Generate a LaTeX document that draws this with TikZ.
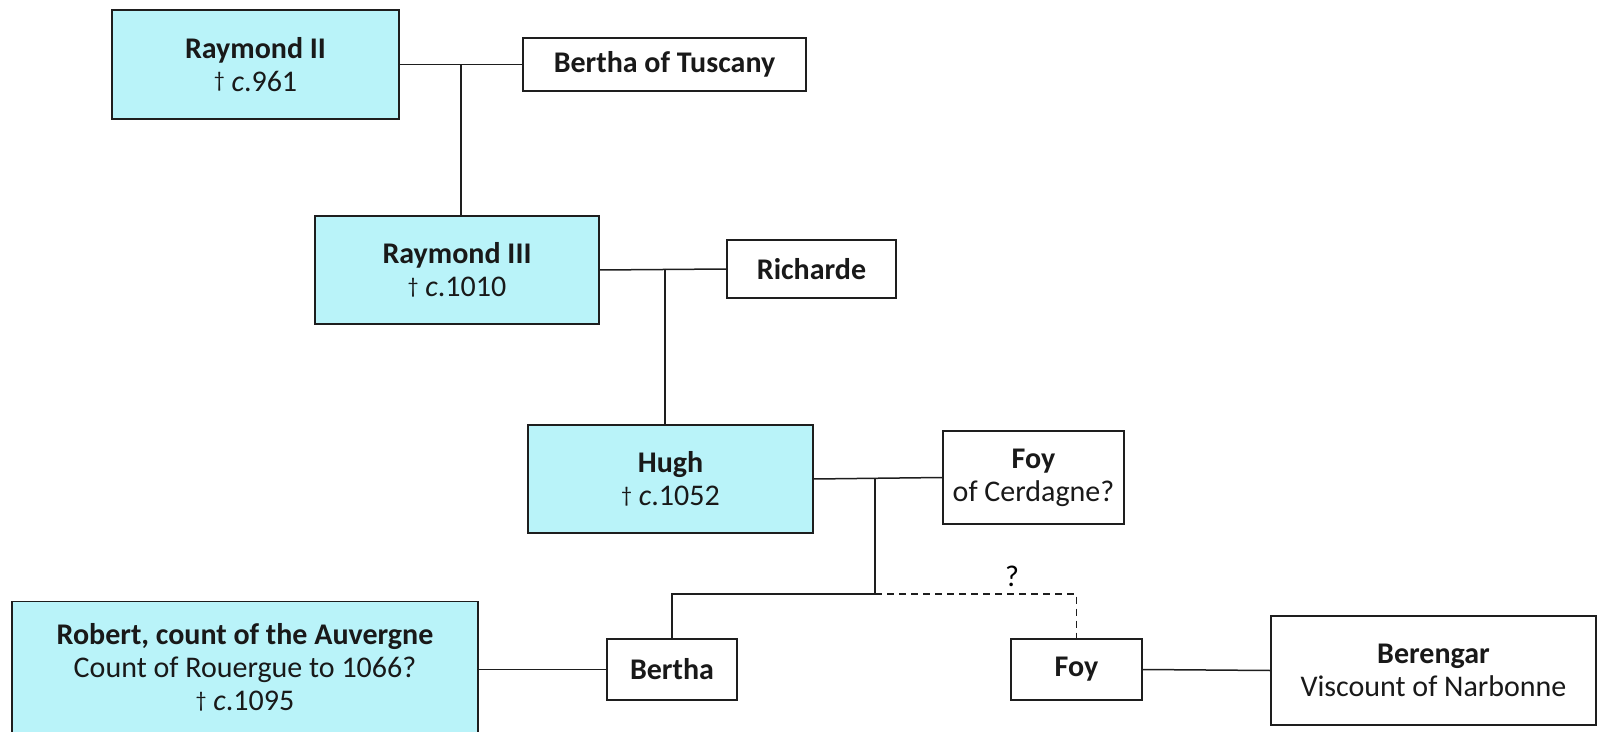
\documentclass[tikz,border=0pt]{standalone}
\usepackage{fontspec}
\setmainfont{Carlito}
\definecolor{boxcyan}{RGB}{185,243,249}
\definecolor{lineblack}{RGB}{30,30,30}
\newcommand{\obit}{\raisebox{0.25ex}{\fontsize{11}{12}\selectfont †}}
\begin{document}
\begin{tikzpicture}[x=0.5pt,y=-0.5pt,
  person/.style={draw=lineblack, line width=0.8pt, fill=white, align=center, inner sep=0pt,
    font=\fontsize{15}{16.5}\selectfont, text=black!90},
  ruler/.style={person, fill=boxcyan},
  link/.style={draw=lineblack, line width=0.75pt},
  dashlink/.style={link, dash pattern=on 3.5pt off 2.5pt}]
\useasboundingbox (0,0) rectangle (1599,732);
% nodes
\node[ruler, minimum width=143.5pt, minimum height=54.5pt] (r2) at (255.5,64.5)
  {\textbf{Raymond II}\\ \obit{} \textit{c}.961};
\node[person, minimum width=141.5pt, minimum height=26.5pt] (bt) at (664.5,64.5)
  {\textbf{Bertha of Tuscany}};
\node[ruler, minimum width=142pt, minimum height=54pt] (r3) at (457,270)
  {\textbf{Raymond III}\\ \obit{} \textit{c}.1010};
\node[person, minimum width=84.5pt, minimum height=29pt] (ri) at (811.5,269)
  {\textbf{Richarde}};
\node[ruler, minimum width=142.5pt, minimum height=54pt] (hu) at (670.5,479)
  {\textbf{Hugh}\\ \obit{} \textit{c}.1052};
\node[person, minimum width=90.5pt, minimum height=46.5pt] (fc) at (1033.5,477.5)
  {\textbf{Foy}\\ of Cerdagne?};
\node[person, minimum width=65pt, minimum height=30.5pt] (be) at (672,669.5)
  {\textbf{Bertha}};
\node[person, minimum width=65.5pt, minimum height=30.5pt] (fo) at (1076.5,669.5)
  {\textbf{Foy}};
\node[ruler, minimum width=233pt, minimum height=66pt] (ro) at (245,667.5)
  {\textbf{Robert, count of the Auvergne}\\ Count of Rouergue to 1066?\\ \obit{} \textit{c}.1095};
\node[person, minimum width=162.5pt, minimum height=54.5pt] (bg) at (1433.5,670.5)
  {\textbf{Berengar}\\ Viscount of Narbonne};
% marriages
\draw[link] (r2.east) -- (bt.west);
\draw[link] (r3.east) -- (ri.west);
\draw[link] (hu.east) -- (fc.west);
\draw[link] (ro.east |- be.west) -- (be.west);
\draw[link] (fo.east) -- (bg.west);
% descent
\coordinate (m1) at (461,64.5);
\draw[link] (m1) -- (m1 |- r3.north);
\coordinate (m2) at (665,269);
\draw[link] (m2) -- (m2 |- hu.north);
\coordinate (m3) at (875,478);
\coordinate (j3) at (875,594);
\draw[link] (m3) -- (j3);
\draw[link] (j3) -| (be.north);
\draw[dashlink] (j3) -| (fo.north);
\node[font=\fontsize{15}{16.5}\selectfont, inner sep=0pt] (q) at (1012,576) {?};
\end{tikzpicture}
\end{document}
